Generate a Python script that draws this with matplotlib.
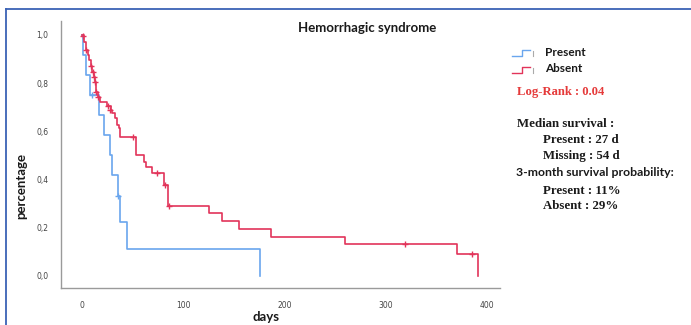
import matplotlib
matplotlib.use("Agg")
import matplotlib.pyplot as plt
from matplotlib.lines import Line2D
from matplotlib.ticker import FuncFormatter

# ---- data ----
present_times = [0, 1, 3.5, 8, 16.3, 22, 27, 29.5, 35.4, 37, 44.7, 176]
present_surv = [1.0, 0.917, 0.833, 0.75, 0.667, 0.583, 0.5, 0.417, 0.333, 0.222, 0.111, 0.0]
present_cens_t = [9.5, 35.8]
present_cens_s = [0.75, 0.333]

absent_times = [0, 2, 3.5, 5.5, 7, 8.5, 10, 11.5, 12.5, 13.5, 14, 15.5, 17.5, 24, 28, 29,
                32, 34.5, 36.5, 37.5, 53.5, 61, 63.5, 68.5, 80.5, 85, 125, 138.5, 155,
                187, 260, 370, 391]
absent_surv = [1.0, 0.969, 0.938, 0.917, 0.896, 0.870, 0.845, 0.825, 0.806, 0.786, 0.765,
               0.741, 0.723, 0.704, 0.690, 0.675, 0.654, 0.627, 0.613, 0.578, 0.502, 0.474,
               0.453, 0.429, 0.378, 0.290, 0.260, 0.228, 0.195, 0.163, 0.131, 0.090, 0.0]
absent_cens_t = [1, 3.8, 9, 10.5, 11.5, 12.5, 14, 15.5, 25, 27, 50, 74, 82, 85.5, 319, 385.5]
absent_cens_s = [0.995, 0.938, 0.870, 0.845, 0.825, 0.806, 0.765, 0.741, 0.704, 0.690,
                 0.578, 0.429, 0.378, 0.290, 0.131, 0.090]

x_ticks = [0, 100, 200, 300, 400]
y_ticks = [0.0, 0.2, 0.4, 0.6, 0.8, 1.0]

title = "Hemorrhagic syndrome"
group_labels = ["Present", "Absent"]

BLUE = "#6aa6ee"
RED = "#e2345a"

W, H = 691, 325
fig = plt.figure(figsize=(W / 100, H / 100), dpi=100)
fig.patch.set_facecolor("white")

ax = fig.add_axes([61 / W, 1 - 288 / H, (500 - 61) / W, (288 - 21) / H])
ax.step(present_times, present_surv, where="post", color=BLUE, lw=1.2)
ax.step(absent_times, absent_surv, where="post", color=RED, lw=1.2)
ax.plot(present_cens_t, present_cens_s, ls="none", marker="+", ms=5, mew=1.0, color=BLUE)
ax.plot(absent_cens_t, absent_cens_s, ls="none", marker="+", ms=5, mew=1.0, color=RED)

ax.set_xlim(-21, 413)
ax.set_ylim(-0.05, 1.058)
ax.set_xticks(x_ticks)
ax.set_yticks(y_ticks)
ax.yaxis.set_major_formatter(FuncFormatter(lambda v, p: f"{v:.1f}".replace(".", ",")))
ax.tick_params(length=0, labelsize=5.5, labelcolor="#444444", pad=9)
for s in ["top", "right"]:
    ax.spines[s].set_visible(False)
for s in ["left", "bottom"]:
    ax.spines[s].set_color("#9a9a9a")
    ax.spines[s].set_linewidth(1.0)

SANS = ["Lato", "DejaVu Sans"]
SERIF = ["Liberation Serif", "DejaVu Serif"]

fig.text(367 / W, 1 - 28 / H, title, ha="center", va="center", fontsize=9.5,
         fontweight="bold", family=SANS, color="#1a1a1a")
fig.text(266 / W, 1 - 317 / H, "days", ha="center", va="center", fontsize=9.5,
         fontweight="bold", family=SANS, color="#1a1a1a")
fig.text(21 / W, 1 - 186 / H, "percentage", ha="center", va="center", rotation=90,
         fontsize=9.5, fontweight="bold", family=SANS, color="#1a1a1a")

# legend icons
def icon(y, color):
    yy = 1 - y / H
    xs = [512, 522, 522, 530]
    ys = [yy - 3 / H, yy - 3 / H, yy + 3 / H, yy + 3 / H]
    fig.add_artist(Line2D([x / W for x in xs], ys, color=color, lw=1.0, transform=fig.transFigure))
    fig.add_artist(Line2D([533 / W, 533 / W], [yy - 3 / H, yy + 2 / H], color="#aaaaaa",
                          lw=0.8, transform=fig.transFigure))

icon(53, BLUE)
icon(70, RED)
fig.text(545 / W, 1 - 52 / H, group_labels[0], ha="left", va="center", fontsize=8.5,
         fontweight="bold", family=SANS, color="#1a1a1a")
fig.text(545 / W, 1 - 69 / H, group_labels[1], ha="left", va="center", fontsize=8.5,
         fontweight="bold", family=SANS, color="#1a1a1a")

SZ = 9.3
fig.text(517 / W, 1 - 92 / H, "Log-Rank : 0.04", ha="left", va="center", fontsize=9.1,
         fontweight="bold", family=SERIF, color="#e53a3a")
fig.text(517 / W, 1 - 124 / H, "Median survival :", ha="left", va="center", fontsize=SZ,
         fontweight="bold", family=SERIF, color="#1a1a1a")
fig.text(543 / W, 1 - 140 / H, "Present : 27 d", ha="left", va="center", fontsize=SZ,
         fontweight="bold", family=SERIF, color="#1a1a1a")
fig.text(543 / W, 1 - 156 / H, "Missing : 54 d", ha="left", va="center", fontsize=SZ,
         fontweight="bold", family=SERIF, color="#1a1a1a")
fig.text(516 / W, 1 - 173 / H, "3-month survival probability:", ha="left", va="center",
         fontsize=8.8, fontweight="bold", family=SANS, color="#1a1a1a")
fig.text(543 / W, 1 - 191 / H, "Present : 11%", ha="left", va="center", fontsize=SZ,
         fontweight="bold", family=SERIF, color="#1a1a1a")
fig.text(543 / W, 1 - 206 / H, "Absent : 29%", ha="left", va="center", fontsize=SZ,
         fontweight="bold", family=SERIF, color="#1a1a1a")

# frame lines (left and top only)
fig.add_artist(Line2D([6 / W, 6 / W], [0, 1 - 9 / H], color="#3a62b5", lw=1.3,
                      transform=fig.transFigure))
fig.add_artist(Line2D([6 / W, 1], [1 - 9 / H, 1 - 9 / H], color="#3a62b5", lw=1.3,
                      transform=fig.transFigure))

fig.savefig("out.png", dpi=100)
